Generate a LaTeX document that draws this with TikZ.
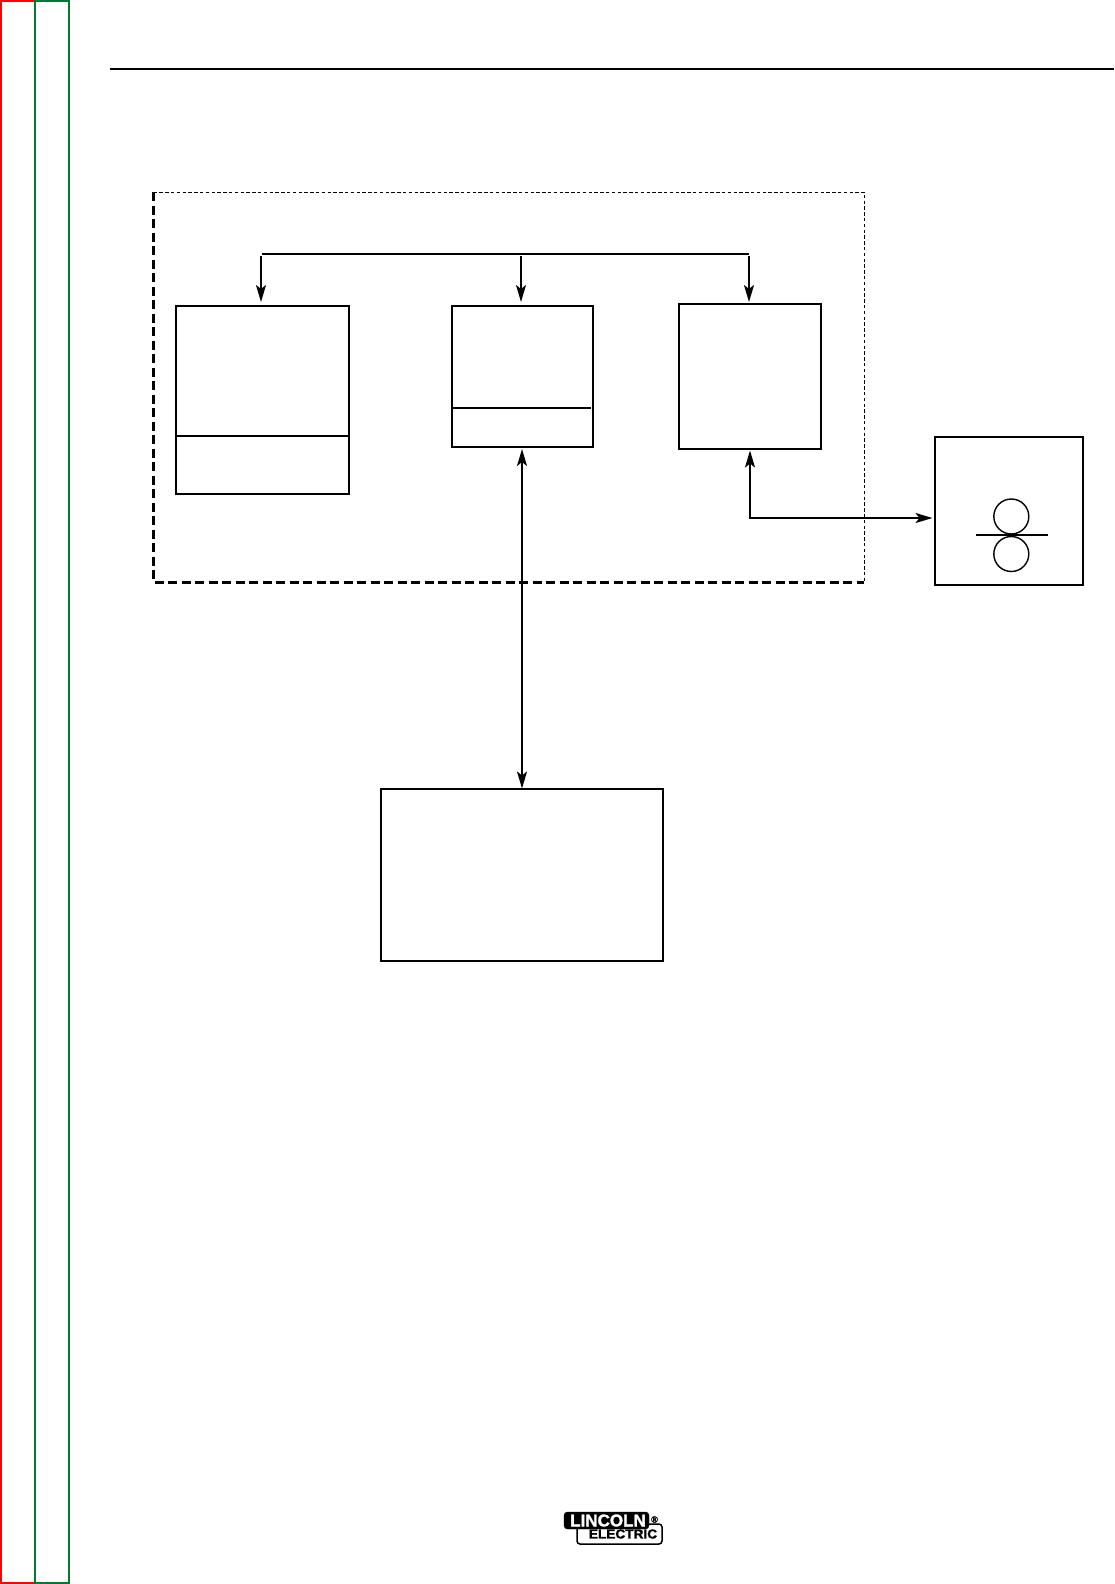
\documentclass[tikz,border=0pt]{standalone}
\usepackage{fontspec}
\setmainfont{Liberation Sans}
\newfontfamily\logofont[FakeBold=1.6]{Liberation Sans Bold}
\usetikzlibrary{arrows.meta,positioning,calc}

\definecolor{tabred}{RGB}{255,0,0}
\definecolor{tabgreen}{RGB}{0,122,51}

\begin{document}
\begin{tikzpicture}[
  x=1pt, y=-1pt,
  bx/.style={draw, line width=2pt, inner sep=0pt, outer sep=0pt},
  ln/.style={line width=2pt},
  ar/.style={{Stealth[length=17pt,width=10pt,inset=4pt]}-, line width=2pt},
  ar2/.style={{Stealth[length=17pt,width=10pt,inset=4pt]}-{Stealth[length=17pt,width=10pt,inset=4pt]}, line width=2pt},
  roll/.style={draw, circle, line width=1.4pt, minimum size=35pt, inner sep=0pt, outer sep=0pt},
  tab/.style={draw, line width=2pt, minimum width=34pt, minimum height=1581pt,
              inner sep=0pt, outer sep=0pt}
]
  \useasboundingbox (0,0) rectangle (1114,1584);

  \node[tab, draw=tabred, anchor=north west] (tabl) at (1,1.5) {};
  \node[tab, draw=tabgreen, anchor=north west] (tabr) at (35,1.5) {};
  \coordinate (rulel) at (110,69);
  \coordinate (ruler) at (1114,69);
  \draw[line width=2.2pt] (rulel)--(ruler);

  \node[bx, minimum width=173pt, minimum height=188pt, anchor=north west] (wire) at (176,306) {};
  \node[bx, minimum width=141pt, minimum height=141pt, right=103pt of wire.north east, anchor=north west] (ctrl) {};
  \node[bx, minimum width=142pt, minimum height=145pt, anchor=north west] (feed) at (679,304) {};
  \node[bx, minimum width=148pt, minimum height=148pt, anchor=north west] (drive) at (935,437) {};
  \node[bx, minimum width=282pt, minimum height=172pt, anchor=north west] (power) at (381,789) {};

  \coordinate (wirediv) at (176,436);
  \coordinate (ctrldiv) at (452,408);
  \draw[ln] (wirediv)--(wirediv -| wire.east);
  \draw[ln] (ctrldiv)--++(139,0);

  \coordinate (busl) at (262,254);
  \coordinate (busr) at (749,254);
  \coordinate (drop) at (261,256);
  \coordinate (dropm) at (521,256);
  \coordinate (dropr) at (749,256);
  \coordinate (elbow) at (750,518);
  \draw[ln] (busl)--(busr);
  \draw[ar] (261,302)--(drop);
  \draw[ar] (521,302)--(dropm);
  \draw[ar] (749,302)--(dropr);
  \draw[ar2] (522,449)--(522,788.5);
  \draw[ar2] (750,450.5)--(elbow)--(932.5,518);

  \draw[line width=3pt, dash pattern=on 9pt off 4.5pt] (153.5,192)--(153.5,582.5)--(864,582.5);
  \draw[line width=1.2pt, dash pattern=on 3.4pt off 2.4pt] (153.5,192.5)--(864.5,192.5)--(864.5,582.5);

  \node[roll] (rollt) at (1011.3,516.5) {};
  \node[roll] (rollb) at (1011.3,554) {};
  \coordinate (stripl) at (976,535);
  \coordinate (stripr) at (1048,535);
  \draw[line width=1.8pt] (stripl)--(stripr);

  \node[draw, line width=1.5pt, rounded corners=3pt, minimum width=85pt, minimum height=20pt,
        anchor=south east, font=\logofont\fontsize{13}{13}\selectfont, inner sep=0pt, outer sep=0pt]
        (elec) at (662,1544) {\raisebox{-4pt}{\hspace*{7pt}\scalebox{1.05}[1]{ELECTRIC}}};
  \node[fill=black, draw=black, rounded corners=3.5pt, minimum width=85pt, minimum height=17pt,
        anchor=south west, text=white, font=\logofont\fontsize{17}{17}\selectfont, inner sep=0pt, outer sep=0pt]
        (linc) at (564,1529) {\hspace*{3pt}LINCOLN};
  \node[font=\logofont\fontsize{9}{9}\selectfont, inner sep=0pt] (reg) at (654.5,1519.5) {®};
\end{tikzpicture}
\end{document}
